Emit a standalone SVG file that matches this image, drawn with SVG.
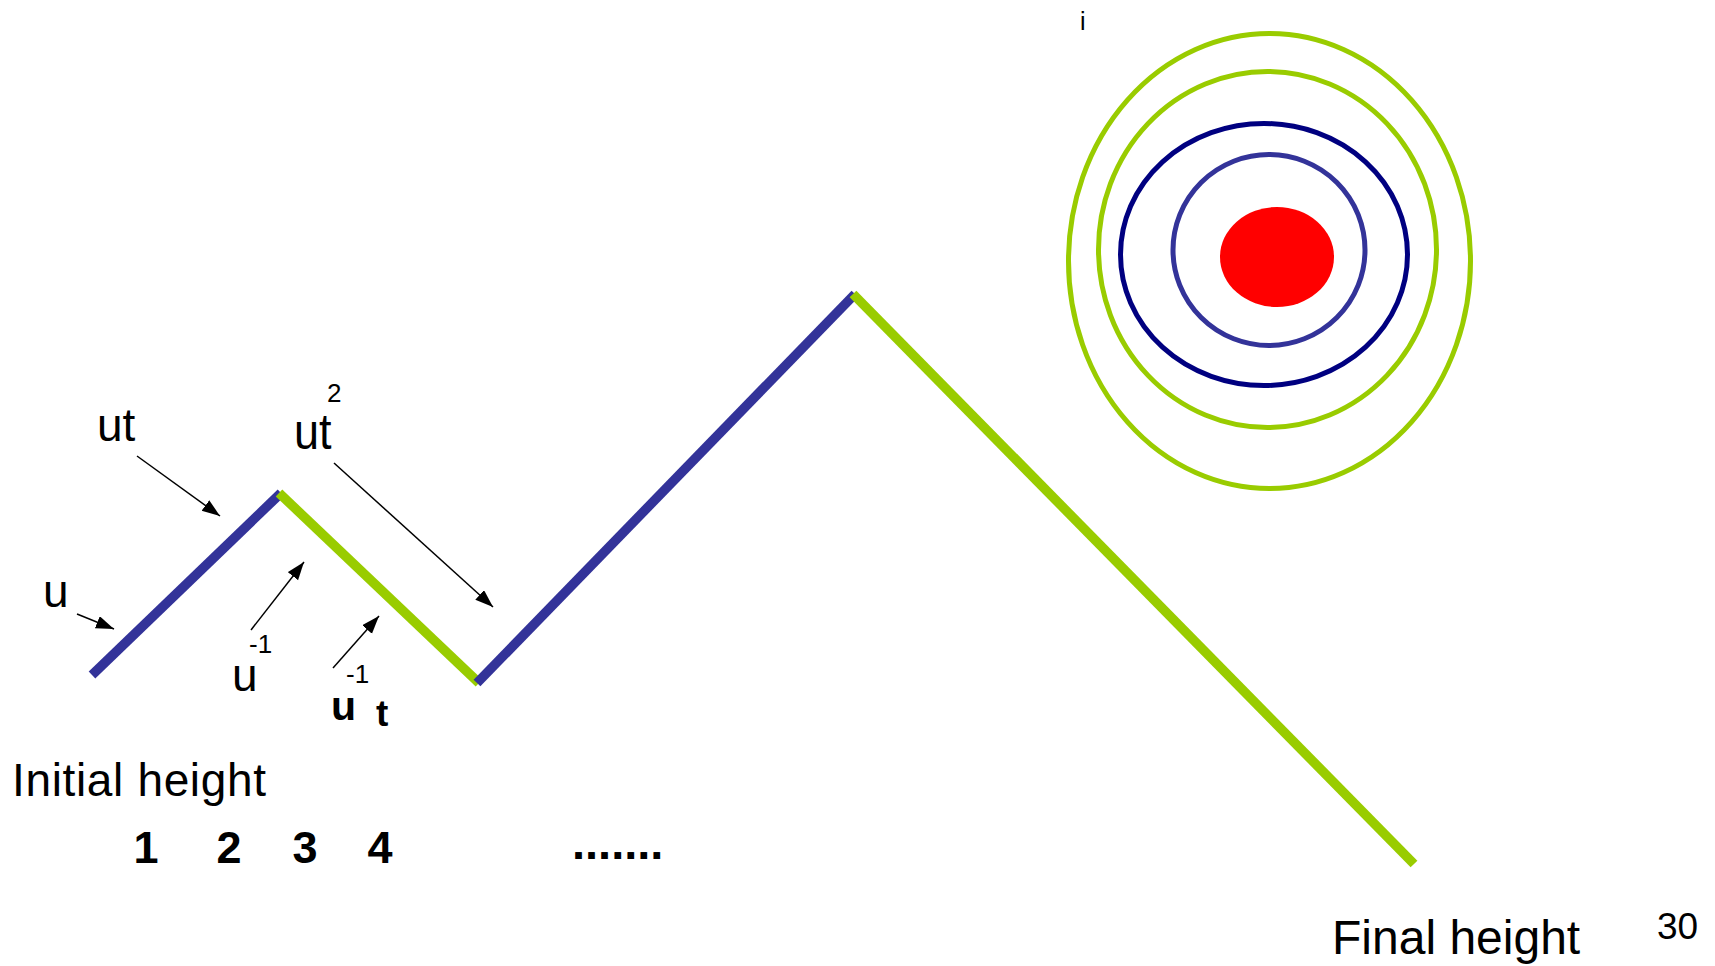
<svg xmlns="http://www.w3.org/2000/svg" width="1715" height="966" viewBox="0 0 1715 966">
<style>
.t{font-family:"Liberation Sans",Arial,sans-serif;fill:#000}
.b{font-weight:bold}
.seg{fill:none;stroke-width:9.5;stroke-linecap:butt}
.blue{stroke:#333399}
.green{stroke:#99CC00}
.ring{fill:none;stroke-width:5}
.arr{stroke:#000;stroke-width:1.5;fill:none;marker-end:url(#ah)}
</style>
<defs>
<marker id="ah" markerUnits="userSpaceOnUse" markerWidth="19" markerHeight="14" refX="18" refY="6.5" orient="auto">
<path d="M0,0 L18,6.5 L0,13 z" fill="#000"/>
</marker>
</defs>
<rect width="1715" height="966" fill="#fff"/>
<g id="zigzag">
<line class="seg blue" x1="92" y1="675" x2="281" y2="493"/>
<line class="seg green" x1="279" y1="493" x2="479" y2="683"/>
<line class="seg blue" x1="477" y1="683" x2="855" y2="294"/>
<line class="seg green" x1="853" y1="294" x2="1414" y2="864"/>
</g>
<g id="target">
<ellipse class="ring" cx="1269.5" cy="261" rx="201" ry="227.5" stroke="#99CC00"/>
<ellipse class="ring" cx="1267.5" cy="249.5" rx="169" ry="178" stroke="#99CC00"/>
<ellipse class="ring" cx="1264" cy="254.5" rx="143.5" ry="131" stroke="#000080"/>
<ellipse class="ring" cx="1269" cy="250" rx="96" ry="95.5" stroke="#333399"/>
<ellipse cx="1277" cy="257" rx="57" ry="50" fill="#FF0000"/>
</g>
<g id="connectors">
<line class="arr" x1="137" y1="456" x2="220" y2="516"/>
<line class="arr" x1="334" y1="463" x2="493" y2="607"/>
<line class="arr" x1="77" y1="614" x2="114" y2="629"/>
<line class="arr" x1="251" y1="630" x2="304" y2="562"/>
<line class="arr" x1="333" y1="668" x2="379" y2="616"/>
</g>
<g id="labels">
<text class="t" x="97" y="441" font-size="46">ut</text>
<text class="t" x="294" y="449" font-size="45" transform="translate(0,449) scale(1,1.13) translate(0,-449)">ut</text>
<text class="t" x="327" y="402" font-size="26">2</text>
<text class="t" x="43" y="607" font-size="46">u</text>
<text class="t" x="232" y="691" font-size="46">u</text>
<text class="t" x="249" y="653" font-size="26">-1</text>
<text class="t b" x="331" y="720" font-size="41">u</text>
<text class="t b" x="376" y="726" font-size="37">t</text>
<text class="t" x="346" y="683" font-size="26">-1</text>
<text class="t" x="1080" y="30" font-size="25">i</text>
<text class="t" x="12" y="796" font-size="46" textLength="254">Initial height</text>
<text class="t b" x="146" y="863" font-size="45" text-anchor="middle">1</text>
<text class="t b" x="229" y="863" font-size="45" text-anchor="middle">2</text>
<text class="t b" x="305" y="863" font-size="45" text-anchor="middle">3</text>
<text class="t b" x="380" y="863" font-size="45" text-anchor="middle">4</text>
<text class="t b" x="572" y="859" font-size="47">.......</text>
<text class="t" x="1332" y="954" font-size="48">Final height</text>
<text class="t" x="1657" y="939" font-size="37">30</text>
</g>
</svg>
